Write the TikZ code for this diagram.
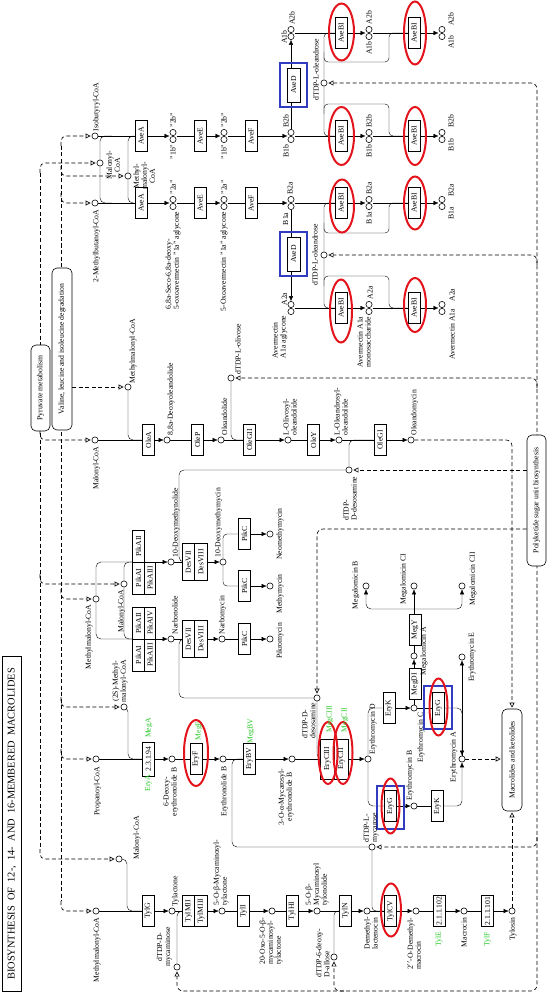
\documentclass[tikz,border=0pt]{standalone}
\usepackage{fontspec}
\setmainfont{Liberation Serif}
\usetikzlibrary{arrows.meta,shapes.geometric}
\pgfdeclarelayer{bg}
\pgfsetlayers{bg,main}
\definecolor{redc}{RGB}{228,20,28}
\definecolor{bluec}{RGB}{50,60,192}
\definecolor{greenc}{RGB}{40,200,40}
\newcommand\lblfont{\fontsize{7.7}{8}\selectfont}
\newcommand\titlefont{\fontsize{10.4}{11}\selectfont}
\begin{document}
\begin{tikzpicture}[x=1pt,y=-1pt,line width=0.6pt,
  lbl/.style={rotate=90,inner sep=0.4pt,font=\lblfont,align=left},
  lblc/.style={lbl,align=center},
  grn/.style={lbl,text=greenc},
  enz/.style={draw,rotate=90,fill=white,inner sep=0pt,font=\lblfont,minimum width=31pt,minimum height=12pt},
  cell/.style={enz,minimum width=32pt,minimum height=11.5pt},
  cpd/.style={circle,draw,fill=white,inner sep=0pt,minimum size=6.2pt},
  mapbox/.style={draw,rounded corners=5pt,rotate=90,fill=white,inner sep=1pt,font=\lblfont},
  dsh/.style={dash pattern=on 4pt off 2.5pt,line width=0.65pt},
  ar/.style={-{Latex[length=5pt,width=4.5pt]}},
  lnk/.style={dsh,-{Triangle[open,length=5pt,width=5pt]},shorten >=1pt},
  lnkk/.style={dsh,{Triangle[open,length=5pt,width=5pt]}-{Triangle[open,length=5pt,width=5pt]},shorten >=1pt,shorten <=1pt},
  redell/.style={ellipse,draw=redc,line width=2pt,inner sep=0pt},
  bluebox/.style={draw=bluec,line width=2.3pt,inner sep=0pt},
  rnd/.style={rounded corners=5pt}
]
\useasboundingbox (0,0) rectangle (546,992);

% ---------- title and map boxes
\node[draw,line width=0.9pt,rotate=90,minimum width=335pt,minimum height=19pt,font=\titlefont,inner sep=0pt] (title) at (12,824) {BIOSYNTHESIS\ \ OF\ \ 12-,\ \ 14-\ \ AND\ \ 16-MEMBERED\ \ MACROLIDES};
\node[mapbox,minimum width=86pt,minimum height=19pt] (pyr) at (40.5,388) {Pyruvate metabolism};
\node[mapbox,minimum width=162pt,minimum height=20pt] (val) at (62,349) {Valine, leucine and isoleucine degradation};
\node[mapbox,minimum width=131pt,minimum height=19pt] (poly) at (536.5,500.5) {Polyketide sugar unit biosynthesis};
\node[mapbox,minimum width=102pt,minimum height=20pt] (macro) at (512,760) {Macrolides and ketolides};

% ---------- compounds: avermectin
\node[cpd] (isob) at (95,136) {};
\node[cpd] (mal1) at (100,163) {};
\node[cpd] (mmal1) at (128,176) {};
\node[cpd] (mbut) at (95,203) {};
\node[cpd] (c1b) at (173,139.5) {};
\node[cpd] (c2b) at (173,132.5) {};
\node[cpd] (c1a) at (173,206.5) {};
\node[cpd] (c2a) at (173,199.5) {};
\node[cpd] (d1b) at (224,139.5) {};
\node[cpd] (d2b) at (224,132.5) {};
\node[cpd] (d1a) at (224,206.5) {};
\node[cpd] (d2a) at (224,199.5) {};
\node[cpd] (B1b) at (291,139.5) {};
\node[cpd] (B2b) at (291,132.5) {};
\node[cpd] (B1a) at (291,206.5) {};
\node[cpd] (B2a) at (291,199.5) {};
\node[cpd] (A1b) at (291,36.5) {};
\node[cpd] (A2b) at (291,29.5) {};
\node[cpd] (A2a) at (291,304.5) {};
\node[cpd] (A1a) at (291,311.5) {};
\node[cpd] (olb) at (324,83) {};
\node[cpd] (ola) at (324,255) {};
\node[cpd] (eA1b) at (369,36.5) {};
\node[cpd] (eA2b) at (369,29.5) {};
\node[cpd] (eB1b) at (369,139.5) {};
\node[cpd] (eB2b) at (369,132.5) {};
\node[cpd] (eB1a) at (369,206.5) {};
\node[cpd] (eB2a) at (369,199.5) {};
\node[cpd] (eA2a) at (369,304.5) {};
\node[cpd] (eA1a) at (369,311.5) {};
\node[cpd] (fA1b) at (442,36.5) {};
\node[cpd] (fA2b) at (442,29.5) {};
\node[cpd] (fB1b) at (442,139.5) {};
\node[cpd] (fB2b) at (442,132.5) {};
\node[cpd] (fB1a) at (442,206.5) {};
\node[cpd] (fB2a) at (442,199.5) {};
\node[cpd] (fA2a) at (442,304.5) {};
\node[cpd] (fA1a) at (442,311.5) {};
\coordinate (cinb) at (169.5,136); \coordinate (coutb) at (176.5,136);
\coordinate (cina) at (169.5,203); \coordinate (couta) at (176.5,203);
\coordinate (dinb) at (220.5,136); \coordinate (doutb) at (227.5,136);
\coordinate (dina) at (220.5,203); \coordinate (douta) at (227.5,203);
\coordinate (Binb) at (287.5,136); \coordinate (Boutb) at (294.5,136);
\coordinate (Bina) at (287.5,203); \coordinate (Bouta) at (294.5,203);
\coordinate (Aoutb) at (294.5,33); \coordinate (Aouta) at (294.5,308);
\coordinate (ein1) at (365.5,33); \coordinate (eout1) at (372.5,33);
\coordinate (ein2) at (365.5,136); \coordinate (eout2) at (372.5,136);
\coordinate (ein3) at (365.5,203); \coordinate (eout3) at (372.5,203);
\coordinate (ein4) at (365.5,308); \coordinate (eout4) at (372.5,308);
\coordinate (fin1) at (438.5,33); \coordinate (fin2) at (438.5,136);
\coordinate (fin3) at (438.5,203); \coordinate (fin4) at (438.5,308);

% ---------- compounds: oleandomycin
\node[cpd] (malO) at (95,440) {};
\node[cpd] (mmalO) at (128,387) {};
\node[cpd] (deox) at (167,440) {};
\node[cpd] (oleol) at (221,440) {};
\node[cpd] (oliv) at (231,378) {};
\node[cpd] (olivo) at (288,440) {};
\node[cpd] (olea) at (339,440) {};
\node[cpd] (desos1) at (349,470) {};
\node[cpd] (olm) at (411,440) {};

% ---------- compounds: pikromycin
\node[cpd] (mmalP) at (96,599) {};
\node[cpd] (malP) at (124,584) {};
\node[cpd] (dmn) at (171,562) {};
\node[cpd] (narb) at (171,639) {};
\node[cpd] (dmm) at (223,562) {};
\node[cpd] (narbm) at (222,639) {};
\node[cpd] (neo) at (270,534) {};
\node[cpd] (methy) at (270,586) {};
\node[cpd] (pikro) at (270,639) {};

% ---------- compounds: erythromycin
\node[cpd] (prop) at (96,759) {};
\node[cpd] (mm2S) at (124,707) {};
\node[cpd] (deb) at (172,759) {};
\node[cpd] (eb) at (223,759) {};
\node[cpd] (myceb) at (292,759) {};
\node[cpd] (desos2) at (317,698) {};
\node[cpd] (ErD) at (368,759) {};
\node[cpd] (ErC) at (414,708) {};
\node[cpd] (ErA) at (462,759) {};
\node[cpd] (ErB) at (414,806) {};
\node[cpd] (ErE) at (462,657) {};
\node[cpd] (megA) at (414,656) {};
\node[cpd] (megB) at (366,586) {};
\node[cpd] (megCI) at (414,586) {};
\node[cpd] (megCII) at (462,586) {};
\node[cpd] (mycar) at (372,847) {};

% ---------- compounds: tylosin
\node[cpd] (mmalT) at (96,911) {};
\node[cpd] (malT) at (119,859) {};
\node[cpd] (tylac) at (172,911) {};
\node[cpd] (mycam) at (177,967) {};
\node[cpd] (myctyl) at (222,911) {};
\node[cpd] (oxo) at (272,911) {};
\node[cpd] (tylon) at (317,911) {};
\node[cpd] (allose) at (334,957) {};
\node[cpd] (dml) at (367,911) {};
\node[cpd] (dmm2) at (416,911) {};
\node[cpd] (macr) at (464,911) {};
\node[cpd] (tylosin) at (512,911) {};

% ---------- enzymes
\node[enz] (AveAb) at (141,136) {AveA};
\node[enz] (AveAa) at (141,203) {AveA};
\node[enz] (AveEb) at (200,136) {AveE};
\node[enz] (AveEa) at (200,203) {AveE};
\node[enz] (AveFb) at (251,136) {AveF};
\node[enz] (AveFa) at (251,203) {AveF};
\node[enz,minimum width=34pt,minimum height=13pt] (AveDb) at (293.5,85) {AveD};
\node[enz,minimum width=34pt,minimum height=13pt] (AveDa) at (293.5,254) {AveD};
\node[enz] (bi11) at (341,33) {AveBI};
\node[enz] (bi12) at (341,136) {AveBI};
\node[enz] (bi13) at (341,203) {AveBI};
\node[enz] (bi14) at (341,308) {AveBI};
\node[enz] (bi21) at (414,33) {AveBI};
\node[enz] (bi22) at (414,136) {AveBI};
\node[enz] (bi23) at (414,203) {AveBI};
\node[enz] (bi24) at (414,308) {AveBI};

\node[enz] (OleA) at (148.5,440) {OleA};
\node[enz] (OleP) at (197.5,440) {OleP};
\node[enz] (OleGII) at (249.5,440) {OleGII};
\node[enz] (OleY) at (313.5,440) {OleY};
\node[enz] (OleGI) at (380,440) {OleGI};

\node[cell] (pA2u) at (138.5,546) {PikAII};
\node[cell] (pA1u) at (138.5,578) {PikAI};
\node[cell] (pA3u) at (150,578) {PikAIII};
\node[cell] (pA2l) at (138.5,623) {PikAII};
\node[cell] (pA1l) at (138.5,655) {PikAI};
\node[cell] (pA4l) at (150,623) {PikAIV};
\node[cell] (pA3l) at (150,655) {PikAIII};
\node[cell,minimum width=37pt,minimum height=12.5pt] (dU7) at (188.5,562) {DesVII};
\node[cell,minimum width=37pt,minimum height=12.5pt] (dU8) at (201,562) {DesVIII};
\node[cell,minimum width=37pt,minimum height=12.5pt] (dL7) at (188.5,639) {DesVII};
\node[cell,minimum width=37pt,minimum height=12.5pt] (dL8) at (201,639) {DesVIII};
\node[enz] (pc1) at (244.5,639) {PikC};
\node[enz] (pc2) at (244.5,534) {PikC};
\node[enz] (pc3) at (244.5,586) {PikC};

\node[enz,minimum width=34pt] (EryA) at (148.5,759) {2.3.1.94};
\node[enz] (EryF) at (196,759) {EryF};
\node[enz] (EryBV) at (249.5,759) {EryBV};
\node[cell,minimum width=40pt,minimum height=14pt] (EryC3) at (327.5,759) {EryCIII};
\node[cell,minimum width=40pt,minimum height=14pt] (EryC2) at (341.5,759) {EryCII};
\node[enz] (EryK1) at (389,708) {EryK};
\node[enz] (EryG1) at (438.5,708) {EryG};
\node[enz] (EryG2) at (390.5,806) {EryG};
\node[enz] (EryK2) at (437.5,806) {EryK};
\node[enz] (MegDI) at (415,684) {MegDI};
\node[enz] (MegY) at (415,630) {MegY};
\coordinate (megbr) at (414,609);

\node[enz] (TylG) at (148,911) {TylG};
\node[cell,minimum width=31pt,minimum height=12.5pt] (TylM2) at (188.5,911) {TylMII};
\node[cell,minimum width=31pt,minimum height=12.5pt] (TylM3) at (201,911) {TylMIII};
\node[enz] (TylI) at (243.5,911) {TylI};
\node[enz] (TylHI) at (292,911) {TylHI};
\node[enz] (TylN) at (345.5,911) {TylN};
\node[enz] (TylCV) at (390.5,911) {TylCV};
\node[enz] (E102) at (439,911) {2.1.1.102};
\node[enz] (E101) at (487.5,911) {2.1.1.101};

\coordinate (pkUin) at (132.5,562); \coordinate (pkUout) at (156,562);
\coordinate (pkLin) at (132.5,639); \coordinate (pkLout) at (156,639);

% ---------- connectors
\begin{pgfonlayer}{bg}
\fill[white] (0,0) rectangle (546,992);
\draw[dsh] (61,146) -- (61,901);
\draw[lnk,rnd] (61,146) |- (isob);
\draw[lnk,rnd] (61,166) |- (mmal1);
\draw[lnk,rnd] (61,193) |- (mbut);
\draw[lnk] (val.south |- mmalO) -- (mmalO);
\draw[lnk,rnd] (61,589) |- (mmalP);
\draw[lnk,rnd] (61,697) |- (mm2S);
\draw[lnk,rnd] (61,749) |- (prop);
\draw[lnk,rnd] (61,901) |- (mmalT);
\draw[dsh] (40,173) -- (40,849);
\draw[lnk,rnd] (40,173) |- (mal1);
\draw[lnk,rnd] (40,430) |- (malO);
\draw[lnk,rnd] (40,574) |- (malP);
\draw[lnk,rnd] (40,849) |- (malT);

\draw[lnkk,rounded corners=6pt] (olb) -- (537,83) -- (537,991) -- (177,991) -- (mycam);
\draw[lnk,rounded corners=6pt] (537,265) |- (ola);
\draw[lnk,rounded corners=6pt] (537,388) |- (oliv);
\draw[lnk] (poly.north |- desos1) -- (desos1);
\draw[lnk,rounded corners=6pt] (poly.north |- 0,529) -| (desos2);
\draw[lnk,rounded corners=6pt] (537,837) |- (mycar);
\draw[lnk,rounded corners=6pt] (344,991) -| (allose);
\draw[lnk,rounded corners=6pt] (olm) -| (macro);
\draw[lnk] (ErA) -- (macro.north |- ErA);
\draw[lnk] (tylosin) -- (tylosin |- macro.west);

% avermectin
\draw (isob) -- (AveAb); \draw[ar] (AveAb) -- (cinb);
\draw[rnd] (112,136) -| (mal1) |- (112,203);
\draw[rnd] (134,136) -| (mmal1) |- (134,203);
\draw (mbut) -- (AveAa); \draw[ar] (AveAa) -- (cina);
\draw (coutb) -- (AveEb); \draw[ar] (AveEb) -- (dinb);
\draw (couta) -- (AveEa); \draw[ar] (AveEa) -- (dina);
\draw (doutb) -- (AveFb); \draw[ar] (AveFb) -- (Binb);
\draw (douta) -- (AveFa); \draw[ar] (AveFa) -- (Bina);
\draw[ar] (B2b) -- (A1b);
\draw[ar] (B1a) -- (A2a);
\draw (Aoutb) -- (bi11);
\draw (Boutb) -- (bi12);
\draw (Bouta) -- (bi13);
\draw (Aouta) -- (bi14);
\draw[rounded corners=4pt] (bi11) -| (olb) |- (bi12);
\draw[rounded corners=4pt] (324,52) |- (389,62) |- (bi21);
\draw[rounded corners=4pt] (324,114) |- (389,104) |- (bi22);
\draw[rounded corners=4pt] (bi13) -| (ola) |- (bi14);
\draw[rounded corners=4pt] (324,223) |- (389,233) |- (bi23);
\draw[rounded corners=4pt] (324,286) |- (389,276) |- (bi24);
\draw[ar] (bi11) -- (ein1); \draw (eout1) -- (bi21); \draw[ar] (bi21) -- (fin1);
\draw[ar] (bi12) -- (ein2); \draw (eout2) -- (bi22); \draw[ar] (bi22) -- (fin2);
\draw[ar] (bi13) -- (ein3); \draw (eout3) -- (bi23); \draw[ar] (bi23) -- (fin3);
\draw[ar] (bi14) -- (ein4); \draw (eout4) -- (bi24); \draw[ar] (bi24) -- (fin4);

% oleandomycin
\draw (malO) -- (OleA); \draw[ar] (OleA) -- (deox);
\draw[rnd] (mmalO) |- (OleA);
\draw (deox) -- (OleP); \draw[ar] (OleP) -- (oleol);
\draw (oleol) -- (OleGII); \draw[rnd] (oliv) |- (OleGII); \draw[ar] (OleGII) -- (olivo);
\draw (olivo) -- (OleY); \draw[ar] (OleY) -- (olea);
\draw (olea) -- (OleGI); \draw[rnd] (desos1) |- (OleGI); \draw[ar] (OleGI) -- (olm);
\draw[rnd] (desos1) -- (179,470) -- (179,562) -- (dU7);

% pikromycin
\draw[rnd] (pkUin) -| (mmalP) |- (pkLin);
\draw[rnd] (pkUin) -| (malP) |- (pkLin);
\draw (pkUin) -- (pkUout); \draw (pkLin) -- (pkLout);
\draw[ar] (pkUout) -- (dmn);
\draw[ar] (pkLout) -- (narb);
\draw (dmn) -- (dU7); \draw[ar] (dU8) -- (dmm);
\draw (narb) -- (dL7); \draw[ar] (dL8) -- (narbm);
\draw[rnd] (desos2) -- (179,698) -- (179,639) -- (dL7);
\draw (narbm) -- (pc1); \draw[ar] (pc1) -- (pikro);
\draw[rounded corners=4pt] (pc2) -| (dmm) |- (pc3);
\draw[ar] (pc2) -- (neo); \draw[ar] (pc3) -- (methy);

% erythromycin
\draw (prop) -- (EryA); \draw[ar] (EryA) -- (deb);
\draw[rnd] (mm2S) -- (128,707) -- (128,759) -- (EryA);
\draw (deb) -- (EryF); \draw[ar] (EryF) -- (eb);
\draw (eb) -- (EryBV); \draw[ar] (EryBV) -- (myceb);
\draw[rnd] (mycar) -- (232,847) -- (232,759) -- (EryBV);
\draw (myceb) -- (EryC3);
\draw[rnd] (desos2) |- (EryC3);
\draw[ar] (EryC2) -- (ErD);
\draw[rnd] (ErD) |- (EryK1); \draw[ar] (EryK1) -- (ErC);
\draw (ErC) -- (EryG1); \draw[ar,rnd] (EryG1) -| (ErA);
\draw[rnd] (ErD) |- (EryG2); \draw[ar] (EryG2) -- (ErB);
\draw (ErB) -- (EryK2); \draw[ar,rnd] (EryK2) -| (ErA);
\draw[ar] (ErA) -- (ErE);
\draw[ar] (ErC) -- (megA);
\draw (megA) -- (megbr);
\draw[ar,rnd] (megbr) -| (megB);
\draw[ar] (megbr) -- (megCI);
\draw[ar,rnd] (megbr) -| (megCII);

% tylosin
\draw (mmalT) -- (TylG); \draw[ar] (TylG) -- (tylac);
\draw[rnd] (malT) -- (127,859) -- (127,911) -- (TylG);
\draw (tylac) -- (TylM2);
\draw[rnd] (mycam) |- (TylM2);
\draw[ar] (TylM3) -- (myctyl);
\draw (myctyl) -- (TylI); \draw[ar] (TylI) -- (oxo);
\draw (oxo) -- (TylHI); \draw[ar] (TylHI) -- (tylon);
\draw (tylon) -- (TylN); \draw[rounded corners=4pt] (allose) |- (TylN); \draw[ar] (TylN) -- (dml);
\draw (dml) -- (TylCV); \draw[rounded corners=4pt] (mycar) |- (TylCV); \draw[ar] (TylCV) -- (dmm2);
\draw (dmm2) -- (E102); \draw[ar] (E102) -- (macr);
\draw (macr) -- (E101); \draw[ar] (E101) -- (tylosin);
\end{pgfonlayer}

% ---------- highlights
\node[bluebox,minimum width=27pt,minimum height=44pt] (bD1) at (293.5,85) {};
\node[bluebox,minimum width=27pt,minimum height=44pt] (bD2) at (293.5,254) {};
\node[bluebox,minimum width=28pt,minimum height=43pt] (bG1) at (438,707.5) {};
\node[bluebox,minimum width=27pt,minimum height=43pt] (bG2) at (390.5,807.5) {};
\node[redell,minimum width=25pt,minimum height=57pt] (r11) at (341.5,32) {};
\node[redell,minimum width=25pt,minimum height=58pt] (r12) at (341.5,136) {};
\node[redell,minimum width=24pt,minimum height=53pt] (r13) at (342,206) {};
\node[redell,minimum width=22pt,minimum height=63pt] (r14) at (341,311) {};
\node[redell,minimum width=22pt,minimum height=63pt] (r21) at (415,33) {};
\node[redell,minimum width=22pt,minimum height=58pt] (r22) at (415,136) {};
\node[redell,minimum width=22pt,minimum height=53pt] (r23) at (415,203) {};
\node[redell,minimum width=22pt,minimum height=54pt] (r24) at (415,305) {};
\node[redell,minimum width=24pt,minimum height=66pt] (rF) at (196,753) {};
\node[redell,minimum width=19pt,minimum height=62pt] (rC3) at (328,753) {};
\node[redell,minimum width=19pt,minimum height=62pt] (rC2) at (343,753) {};
\node[redell,minimum width=18pt,minimum height=57pt] (rG1) at (438.5,707) {};
\node[redell,minimum width=18pt,minimum height=55pt] (rG2) at (390.5,806) {};
\node[redell,minimum width=20pt,minimum height=53pt] (rT) at (391,910) {};

% ---------- green gene labels
\node[grn] (gMegA) at (149,728) {MegA};
\node[grn] (gEryA) at (148.5,783) {EryA};
\node[grn] (gMegF) at (199,731) {MegF};
\node[grn] (gMegBV) at (251,731) {MegBV};
\node[grn] (gMegC3) at (330,719) {MegCIII};
\node[grn] (gMegC2) at (345,720) {MegCII};
\node[grn] (gTylE) at (439,939) {TylE};
\node[grn] (gTylF) at (487.5,939) {TylF};

% ---------- compound labels: avermectin
\node[lbl,anchor=west] (L1) at (96.5,132) {Isobutyryl-CoA};
\node[lblc,anchor=north] (L2) at (106,165) {Malonyl-\\CoA};
\node[lblc,anchor=north] (L3) at (133,176) {Methyl-\\malonyl-\\CoA};
\node[lbl,anchor=east] (L4) at (96.5,209) {2-Methylbutanoyl-CoA};
\node[lbl,anchor=east] (L5) at (173,144) {"1b"};
\node[lbl,anchor=west] (L6) at (173,128) {"2b"};
\node[lbl,anchor=west] (L7) at (173,195) {"2a"};
\node[lbl,anchor=east] (L8) at (173,211) {6,8a-Seco-6,8a-deoxy-\\5-oxoavermectin "1a" aglycone};
\node[lbl,anchor=east] (L9) at (224,144) {"1b"};
\node[lbl,anchor=west] (L10) at (224,128) {"2b"};
\node[lbl,anchor=west] (L11) at (224,195) {"2a"};
\node[lbl,anchor=east] (L12) at (224,211) {5-Oxoavermectin "1a" aglycone};
\node[lbl,anchor=east] (L13) at (286,144) {B1b};
\node[lbl,anchor=west] (L14) at (286,128) {B2b};
\node[lbl,anchor=west] (L15) at (290,195) {B2a};
\node[lbl,anchor=east] (L16) at (285.5,212) {B1a};
\node[lbl,anchor=south] (L17) at (287.5,37) {A1b};
\node[lbl,anchor=west] (L18) at (292,25.5) {A2b};
\node[lbl,anchor=south] (L19) at (287.5,299) {A2a};
\node[lbl,anchor=east] (L20) at (280,315) {Avermectin\\A1a aglycone};
\node[lbl,anchor=west] (L21) at (316,101) {dTDP-L-oleandrose};
\node[lblc] (L22) at (315,255) {dTDP-L-oleandrose};
\node[lbl,anchor=east] (L23) at (369,41) {A1b};
\node[lbl,anchor=west] (L24) at (369,25) {A2b};
\node[lbl,anchor=east] (L25) at (369,144) {B1b};
\node[lbl,anchor=west] (L26) at (369,128) {B2b};
\node[lbl,anchor=east] (L27) at (369,211) {B1a};
\node[lbl,anchor=west] (L28) at (369,195) {B2a};
\node[lbl,anchor=west] (L29) at (370,300) {A2a};
\node[lbl,anchor=east] (L30) at (364,316) {Avermectin A1a\\monosaccharide};
\node[lblc] (L31) at (451,42) {A1b};
\node[lblc] (L32) at (451,19) {A2b};
\node[lblc] (L33) at (451,145) {B1b};
\node[lblc] (L34) at (451,121) {B2b};
\node[lblc] (L35) at (451,213) {B1a};
\node[lblc] (L36) at (451,190) {B2a};
\node[lblc] (L37) at (452,295) {A2a};
\node[lblc] (L38) at (452,334) {Avermectin A1a};

% ---------- labels: oleandomycin
\node[lbl,anchor=east] (L40) at (96.5,446) {Malonyl-CoA};
\node[lbl,anchor=west] (L41) at (133,384) {Methylmalonyl-CoA};
\node[lbl,anchor=west] (L42) at (171,436) {8,8a-Deoxyoleandolide};
\node[lbl,anchor=west] (L43) at (224.5,436) {Oleandolide};
\node[lbl,anchor=west] (L44) at (238,375) {dTDP-L-olivose};
\node[lbl,anchor=west] (L45) at (290,436) {L-Olivosyl-\\oleandolide};
\node[lbl,anchor=west] (L46) at (341,436) {L-Oleandrosyl-\\oleandolide};
\node[lbl,anchor=east] (L47) at (350,476) {dTDP-\\D-desosamine};
\node[lbl,anchor=west] (L48) at (414.5,436) {Oleandomycin};

% ---------- labels: pikromycin
\node[lbl,anchor=east] (L50) at (89,604) {Methylmalonyl-CoA};
\node[lbl,anchor=east] (L51) at (121.5,589) {Malonyl-CoA};
\node[lbl,anchor=west] (L52) at (176,558) {10-Deoxymethynolide};
\node[lbl,anchor=west] (L53) at (175,635) {Narbonolide};
\node[lbl,anchor=west] (L54) at (218.5,558) {10-Deoxymethymycin};
\node[lbl,anchor=west] (L55) at (222.5,635) {Narbomycin};
\node[lbl,anchor=north] (L56) at (276,534) {Neomethymycin};
\node[lbl,anchor=north] (L57) at (276,594) {Methymycin};
\node[lbl,anchor=north] (L58) at (276,641) {Pikromycin};

% ---------- labels: erythromycin
\node[lbl,anchor=east] (L60) at (97.5,766) {Propanoyl-CoA};
\node[lblc,anchor=west] (L61) at (120,703) {(2S)-Methyl-\\malonyl-CoA};
\node[lblc,anchor=east] (L62) at (171,767) {6-Deoxy-\\erythronolide B};
\node[lbl,anchor=east] (L63) at (224.5,766) {Erythronolide B};
\node[lblc,anchor=east] (L64) at (286,768) {3-O-α-Mycarosyl-\\erythronolide B};
\node[lbl,anchor=south east] (L65) at (316,702) {dTDP-D-\\desosamine};
\node[lbl,anchor=west] (L66) at (373,755) {Erythromycin D};
\node[lbl,anchor=east] (L67) at (421,712) {Erythromycin C};
\node[lbl,anchor=west] (L68) at (410,801) {Erythromycin B};
\node[lbl,anchor=south] (L69) at (458,757) {Erythromycin A};
\node[lbl,anchor=north] (L70) at (468,657) {Erythromycin E};
\node[lbl,anchor=north] (L71) at (420,651) {Megalomicin A};
\node[lbl,anchor=south] (L72) at (360,585) {Megalomicin B};
\node[lbl,anchor=south] (L73) at (408,579) {Megalomicin CI};
\node[lbl,anchor=north] (L74) at (469,579) {Megalomicin CII};
\node[lbl,anchor=west] (L75) at (371,843) {dTDP-L-\\mycarose};

% ---------- labels: tylosin
\node[lbl,anchor=east] (L80) at (97,917) {Methylmalonyl-CoA};
\node[lbl,anchor=west] (L81) at (137,860) {Malonyl-CoA};
\node[lbl,anchor=west] (L82) at (175.5,907) {Tylactone};
\node[lblc,anchor=south] (L83) at (172.5,947) {dTDP-D-\\mycaminose};
\node[lbl,anchor=west] (L84) at (221,906) {5-O-β-Mycaminosyl-\\tylactone};
\node[lbl,anchor=east] (L85) at (271,917) {20-Oxo-5-O-β-\\mycaminosyl-\\tylactone};
\node[lbl,anchor=west] (L86) at (317,906) {5-O-β-\\Mycaminosyl\\tylonolide};
\node[lbl,anchor=south] (L87) at (330,953) {dTDP-6-deoxy-\\D-allose};
\node[lbl,anchor=east] (L88) at (371,916) {Demethyl-\\lactenocin};
\node[lbl,anchor=east] (L89) at (414,917) {2$''$-O-Demethyl-\\macrocin};
\node[lbl,anchor=east] (L90) at (464,917) {Macrocin};
\node[lbl,anchor=east] (L91) at (513,917) {Tylosin};
\end{tikzpicture}
\end{document}
